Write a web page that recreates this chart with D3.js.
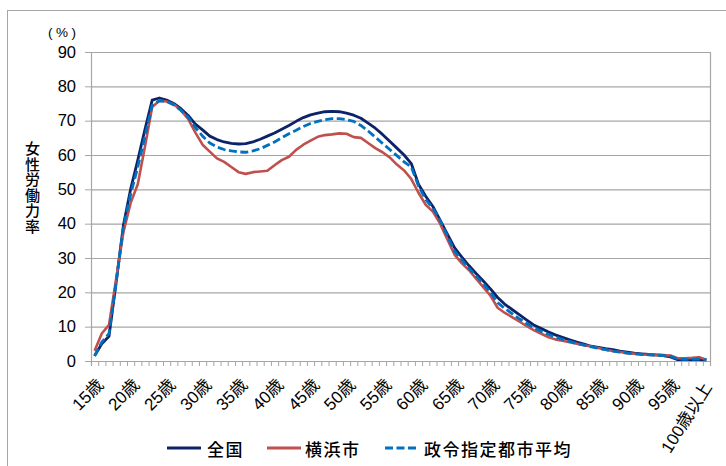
<!DOCTYPE html>
<html><head><meta charset="utf-8">
<script src="https://cdn.jsdelivr.net/npm/d3@7"></script>
<style>
html,body{margin:0;padding:0;background:#fff;}
svg{display:block;font-family:"Liberation Sans","Noto Sans CJK JP",sans-serif;}
</style></head>
<body>
<svg id="chart" width="726" height="466"></svg>
<script>
const categories = ["15歳","16歳","17歳","18歳","19歳","20歳","21歳","22歳","23歳","24歳",
"25歳","26歳","27歳","28歳","29歳","30歳","31歳","32歳","33歳","34歳",
"35歳","36歳","37歳","38歳","39歳","40歳","41歳","42歳","43歳","44歳",
"45歳","46歳","47歳","48歳","49歳","50歳","51歳","52歳","53歳","54歳",
"55歳","56歳","57歳","58歳","59歳","60歳","61歳","62歳","63歳","64歳",
"65歳","66歳","67歳","68歳","69歳","70歳","71歳","72歳","73歳","74歳",
"75歳","76歳","77歳","78歳","79歳","80歳","81歳","82歳","83歳","84歳",
"85歳","86歳","87歳","88歳","89歳","90歳","91歳","92歳","93歳","94歳",
"95歳","96歳","97歳","98歳","99歳","100歳以上"];

const tickLabels = ["15歳","20歳","25歳","30歳","35歳","40歳","45歳","50歳","55歳","60歳",
"65歳","70歳","75歳","80歳","85歳","90歳","95歳","100歳以上"];

const yTicks = [0,10,20,30,40,50,60,70,80,90];

const seriesNames = ["全国","横浜市","政令指定都市平均"];

const zenkoku = [1.5,5,7.2,23,39.5,50,58.5,67.5,76,76.6,
76,75,73.5,71.5,69,67.3,65.5,64.5,63.8,63.4,
63.2,63.3,63.8,64.6,65.5,66.4,67.5,68.6,69.8,70.9,
71.7,72.2,72.6,72.7,72.6,72.2,71.6,70.7,69.3,67.8,
66,64,62,60,57.5,51.5,48,45,41,37,
33,30.3,27.8,25.5,23.3,21,18.5,16.5,15,13.5,
12,10.5,9.5,8.5,7.6,6.9,6.2,5.5,4.9,4.3,
4.0,3.6,3.3,2.9,2.6,2.3,2.1,1.9,1.8,1.6,
1.2,0.4,0.4,0.4,0.4,0.3];

const yokohama = [3,8,10.5,24,37.5,46,51.5,62.5,74,75.8,
75.6,74.8,73,70.5,66.5,63,61,59,58,56.5,
55,54.5,55,55.2,55.4,57,58.5,59.5,61.5,63,
64.2,65.3,65.8,66,66.3,66.2,65.2,65,63.5,62,
60.8,59.3,57.2,55.5,53,49,45.5,43.5,40,35.5,
31,28.5,26.5,24,21.5,19,15.5,14,12.8,11.5,
10.2,9,8,7,6.3,5.9,5.5,5,4.6,4.2,
3.8,3.3,2.9,2.6,2.3,2.1,1.9,1.8,1.7,1.7,
1.6,0.8,0.8,0.9,1.1,0.4];

const seirei = [1.5,5.5,8,23,39,48.5,56.5,65.5,74.5,75.8,
75.6,74.6,73,71,68,65.5,63.5,62.3,61.6,61.2,
60.9,60.8,61.2,61.8,62.8,63.8,65,66.2,67.2,68.3,
69.2,69.8,70.3,70.6,70.6,70.3,69.8,68.6,67,65.2,
63.4,61.6,59.8,58,56.5,51,47,44.5,41,36.5,
32,29.5,27,24.8,22.5,20,17,15.3,13.8,12.3,
11,9.7,8.7,7.8,7,6.3,5.7,5.1,4.6,4.1,
3.7,3.3,2.9,2.6,2.3,2.1,1.9,1.8,1.7,1.6,
1.4,0.6,0.5,0.5,0.6,0.3];

const seriesValues = [zenkoku, yokohama, seirei];
const seriesColors = ["#0d2367","#c0504d","#0070c0"];

const svg = d3.select("#chart");
const L = 91, R = 710, T = 52, B = 361;

// outer chart border
svg.append("rect").attr("x",7.5).attr("y",10.5).attr("width",760).attr("height",520)
  .attr("fill","none").attr("stroke","#a6a6a6").attr("stroke-width",1);

const x = d3.scaleBand().domain(categories).range([L,R]).padding(0);
const xIdx = d3.scaleLinear().domain([0,categories.length]).range([L,R]);
const y = d3.scaleLinear().domain([0,90]).range([B,T]);

// gridlines
svg.append("g").attr("transform",`translate(${L},0)`)
  .call(d3.axisLeft(y).tickValues(yTicks).tickSize(-(R-L)).tickFormat(""))
  .call(g=>g.select(".domain").remove())
  .call(g=>g.selectAll("line").attr("stroke","#a6a6a6").attr("stroke-width",1.2));

// plot border right
svg.append("line").attr("x1",R+0.5).attr("x2",R+0.5).attr("y1",T).attr("y2",B)
  .attr("stroke","#a6a6a6").attr("stroke-width",1.2);

// y axis
svg.append("g").attr("transform",`translate(${L},0)`)
  .call(d3.axisLeft(y).tickValues(yTicks).tickSize(6).tickPadding(9).tickFormat(d3.format("d")))
  .call(g=>g.select(".domain").attr("stroke","#a6a6a6").attr("stroke-width",1.2))
  .call(g=>g.selectAll("line").attr("stroke","#a6a6a6"))
  .call(g=>g.selectAll("text").attr("font-size",16.5).attr("fill","#000")
     .attr("font-family","'Liberation Sans',sans-serif"));

// x axis boundary ticks
svg.append("g").attr("transform",`translate(0,${B})`)
  .call(d3.axisBottom(xIdx).tickValues(d3.range(0,categories.length+1)).tickSize(5).tickFormat(""))
  .call(g=>g.select(".domain").attr("stroke","#a6a6a6").attr("stroke-width",1.2))
  .call(g=>g.selectAll("line").attr("stroke","#a6a6a6"));

// x labels
const xl = svg.append("g").attr("transform",`translate(0,${B})`)
  .call(d3.axisBottom(x).tickValues(tickLabels).tickSize(0))
  .call(g=>g.select(".domain").remove());
xl.selectAll(".tick text")
  .attr("font-size",17).attr("fill","#000")
  .attr("font-family","'Liberation Sans','Noto Sans CJK JP',sans-serif")
  .attr("text-anchor","end").attr("dy",0).attr("y",0)
  .attr("transform",d=> d==="100歳以上" ? "translate(6,26) rotate(-58)" : "translate(10,25) rotate(-45)");

// lines
const line = d3.line().x((d,i)=>x(categories[i])+x.bandwidth()/2).y(d=>y(d));
seriesValues.forEach((vals,k)=>{
  svg.append("path").datum(vals).attr("d",line)
    .attr("fill","none").attr("stroke",seriesColors[k])
    .attr("stroke-width", k===1?2.6:2.8)
    .attr("stroke-linejoin","round")
    .attr("stroke-dasharray", k===2?"8,3.5":null);
});

// y title (vertical writing)
svg.append("text").attr("x",32.5).attr("y",141)
  .attr("font-size",15).attr("fill","#000").attr("font-weight",500)
  .attr("font-family","'Noto Sans CJK JP',sans-serif")
  .attr("writing-mode","vertical-rl").attr("letter-spacing",0.5)
  .style("writing-mode","vertical-rl")
  .text("女性労働力率");

// unit
svg.append("text").attr("x",48).attr("y",32)
  .attr("dominant-baseline","central").attr("font-size",13.5).attr("letter-spacing",3.5)
  .attr("font-family","'Liberation Sans',sans-serif").attr("fill","#000").text("(%)");

// legend
const legendPos = [{lx:167, tx:207},{lx:267, tx:305},{lx:385, tx:424}];
const ly = 448;
seriesNames.forEach((n,k)=>{
  svg.append("line").attr("x1",legendPos[k].lx).attr("x2",legendPos[k].lx+34)
    .attr("y1",ly).attr("y2",ly).attr("stroke",seriesColors[k])
    .attr("stroke-width",2.8).attr("stroke-dasharray",k===2?"8,3.5":null);
  svg.append("text").attr("x",legendPos[k].tx).attr("y",ly)
    .attr("dominant-baseline","central").attr("font-size",17).attr("font-weight",500)
    .attr("letter-spacing",1.5)
    .attr("font-family","'Noto Sans CJK JP',sans-serif").attr("fill","#000").text(n);
});
</script>
</body></html>
